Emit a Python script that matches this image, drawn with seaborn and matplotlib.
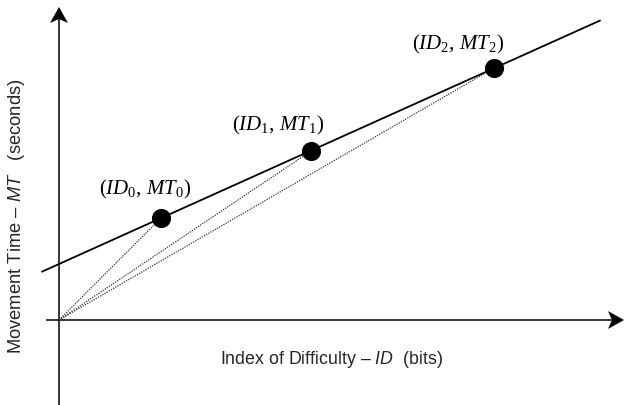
import matplotlib
matplotlib.use("Agg")
import matplotlib.pyplot as plt
import seaborn as sns
import numpy as np
import pandas as pd
from matplotlib.patches import Polygon

# ---- data ----
labels = [r"$(\mathit{ID}_{0},\, \mathit{MT}_{0})$",
          r"$(\mathit{ID}_{1},\, \mathit{MT}_{1})$",
          r"$(\mathit{ID}_{2},\, \mathit{MT}_{2})$"]
ID = [1.02, 2.52, 4.35]
MT = [1.02, 1.69, 2.52]
intercept = 0.56
slope = 0.45
line_id = [-0.17, 5.41]
x_label = r"Index of Difficulty – $\mathsf{ID}$  (bits)"
y_label = r"Movement Time – $\mathsf{MT}$   (seconds)"

sns.set_theme(style="white")
plt.rcParams["font.family"] = ["Liberation Sans", "DejaVu Sans"]
plt.rcParams["mathtext.fontset"] = "custom"
plt.rcParams["mathtext.rm"] = "Liberation Serif"
plt.rcParams["mathtext.it"] = "Liberation Serif:italic"
plt.rcParams["mathtext.sf"] = "Liberation Sans:italic"

fig = plt.figure(figsize=(6.24, 4.05), dpi=100)
ax = fig.add_axes([0, 0, 1, 1])
ax.set_xlim(-0.59, 5.65)
ax.set_ylim(-0.85, 3.20)
ax.axis("off")

# axes lines
ax.plot([-0.13, 5.55], [0, 0], color="black", lw=1.1, solid_capstyle="butt")
ax.plot([0, 0], [-0.85, 3.05], color="black", lw=1.1, solid_capstyle="butt")

def arrowhead(x, y, direction):
    # stealth-shaped head drawn in pixel offsets around the tip
    L, W, N = 16, 9, 4
    if direction == "up":
        pts = [(0, 0), (-W, -L), (0, -L + N), (W, -L)]
    else:
        pts = [(0, 0), (-L, W), (-L + N, 0), (-L, -W)]
    tr = ax.transData
    verts = []
    for dx, dy in pts:
        px, py = tr.transform((x, y))
        verts.append(tr.inverted().transform((px + dx, py + dy)))
    ax.add_patch(Polygon(verts, closed=True, color="black", lw=0))

arrowhead(0, 3.13, "up")
arrowhead(5.65, 0, "right")

# regression line
line_df = pd.DataFrame({"ID": line_id,
                        "MT": [intercept + slope * v for v in line_id]})
sns.lineplot(data=line_df, x="ID", y="MT", ax=ax, color="black", lw=1.3,
             estimator=None, sort=False)

# dotted lines from origin to each point
for i, (xv, yv) in enumerate(zip(ID, MT)):
    d = pd.DataFrame({"ID": [0, xv], "MT": [0, yv]})
    sns.lineplot(data=d, x="ID", y="MT", ax=ax, color="#333333", lw=0.9,
                 linestyle=(0, (1, 1)), estimator=None, sort=False)

pts = pd.DataFrame({"ID": ID, "MT": MT})
sns.scatterplot(data=pts, x="ID", y="MT", ax=ax, s=190, color="black",
                edgecolor="black", linewidth=0, zorder=5)

offsets = [(-16, 29), (-33, 26), (-36, 24)]
for lab, xv, yv, off in zip(labels, ID, MT, offsets):
    ax.annotate(lab, (xv, yv), xytext=off, textcoords="offset pixels",
                ha="center", va="center", fontsize=15, color="black")

ax.set_xlabel("")
ax.set_ylabel("")
fig.text(331 / 624, 1 - 360 / 405, x_label, ha="center", va="center",
         fontsize=12.8)
fig.text(17 / 624, 1 - 216 / 405, y_label, ha="center", va="center",
         fontsize=13.2, rotation=90)

fig.savefig("out.png", dpi=100)
